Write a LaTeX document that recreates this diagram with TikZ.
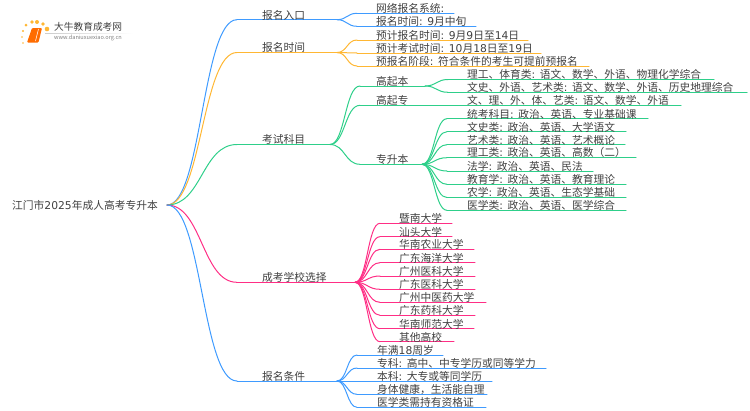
\documentclass[tikz,border=0pt]{standalone}
\usepackage{fontspec}
\setmainfont{Noto Sans CJK SC}
\newfontfamily\latinfont{DejaVu Sans}
\usetikzlibrary{calc}
\definecolor{blueline}{HTML}{3F9BFF}
\definecolor{orangeline}{HTML}{FFB733}
\definecolor{greenline}{HTML}{2ECF8A}
\definecolor{pinkline}{HTML}{FF2E85}
\definecolor{labeltext}{HTML}{404040}
\tikzset{
  root/.style={anchor=west,inner sep=0pt,font=\fontsize{10.75}{12}\selectfont,text=labeltext},
  topic/.style={anchor=south west,inner ysep=0.5pt,inner xsep=0pt,yshift=-1pt,font=\fontsize{10.75}{12}\selectfont,text=labeltext},
  link/.style={line width=1pt,line cap=round},
}
\newcommand{\lat}[1]{{\latinfont #1}}
% curve from the end of a parent line to the start of a child line
\newcommand{\curve}[3]{\coordinate (mid) at ($(#2)!0.5!(#3)$); \draw [link,#1] (#2) .. controls (mid |- #2) and (mid |- #3) .. (#3);}
% colour, name, left end, text start, right end, y of line, text
\newcommand{\topicnode}[7]{
  \coordinate (#2-l) at (#3,#6);
  \coordinate (#2-r) at (#5,#6);
  \draw [link,#1] (#2-l) -- (#2-r);
  \node [topic] (#2) at (#4,#6) {#7};
}
\begin{document}
\begin{tikzpicture}[x=1pt,y=-1pt]
\useasboundingbox (0,0) rectangle (750,410);

% logo
\foreach \px/\py/\pr in {23/31/1.2, 22/37/0.9, 23/43/0.8, 26/25/1.5, 32/22/1.8, 37/22/2, 43/24/1.9, 47/29/2.3}
  \fill [orangeline] (\px,\py) circle (\pr);
\fill [orange!85!red,rounded corners=1pt] (32,28) -- (42,28) -- (38.5,42.5) -- (27,42.5) -- cycle;
\draw [white,line width=0.5pt] (38.5,29) -- (35.5,41);
\node [anchor=west,inner sep=0pt,font=\fontsize{9.7}{11}\selectfont,text=labeltext] (logotitle) at (54,27.3) {大牛教育成考网};
\node [anchor=west,inner sep=0pt,font=\fontsize{5.6}{6}\selectfont,text=gray] (logourl) at (54,38.4) {www.daniuxuexiao.org.cn};
\shade [left color=gray!40,right color=white] (45,33) rectangle (133,33.5);

\node [root] (top) at (12,205) {江门市\lat{2025}年成人高考专升本};
\coordinate (top-r) at (167,205);

% first level
\topicnode{blueline}{entry}{237}{262}{337}{19.7}{报名入口}
\topicnode{orangeline}{date}{237}{262}{337}{52.5}{报名时间}
\topicnode{greenline}{exam}{237}{262}{330}{144.5}{考试科目}
\topicnode{pinkline}{school}{237}{262}{355}{282.3}{成考学校选择}
\topicnode{blueline}{cond}{237}{262}{337}{381}{报名条件}
\foreach \n/\c in {entry/blueline,date/orangeline,exam/greenline,school/pinkline,cond/blueline}
  {\curve{\c}{top-r}{\n-l}}

% entry
\topicnode{blueline}{entry1}{357}{376}{454}{13.3}{网络报名系统\lat{:}}
\topicnode{blueline}{entry2}{357}{376}{476}{26.3}{报名时间\lat{: 9}月中旬}
\foreach \n in {entry1,entry2} {\curve{blueline}{entry-r}{\n-l}}

% date
\topicnode{orangeline}{date1}{357}{376}{528}{40}{预计报名时间\lat{: 9}月\lat{9}日至\lat{14}日}
\topicnode{orangeline}{date2}{357}{376}{541}{53}{预计考试时间\lat{: 10}月\lat{18}日至\lat{19}日}
\topicnode{orangeline}{date3}{357}{376}{589}{66}{预报名阶段\lat{: }符合条件的考生可提前预报名}
\foreach \n in {date1,date2,date3} {\curve{orangeline}{date-r}{\n-l}}

% exam
\topicnode{greenline}{bk}{360}{376}{425}{86}{高起本}
\topicnode{greenline}{gz}{360}{376}{681}{105.3}{高起专}
\topicnode{greenline}{zs}{360}{376}{422}{164.3}{专升本}
\foreach \n in {bk,gz,zs} {\curve{greenline}{exam-r}{\n-l}}

\topicnode{greenline}{bk1}{448}{467}{714}{79.5}{理工、体育类\lat{: }语文、数学、外语、物理化学综合}
\topicnode{greenline}{bk2}{448}{467}{747}{92.3}{文史、外语、艺术类\lat{: }语文、数学、外语、历史地理综合}
\foreach \n in {bk1,bk2} {\curve{greenline}{bk-r}{\n-l}}
\node [topic] (gz1) at (467,105.3) {文、理、外、体、艺类\lat{: }语文、数学、外语};

\topicnode{greenline}{zs1}{447}{467}{648}{118.7}{统考科目\lat{: }政治、英语、专业基础课}
\topicnode{greenline}{zs2}{447}{467}{626}{131.7}{文史类\lat{: }政治、英语、大学语文}
\topicnode{greenline}{zs3}{447}{467}{625}{144.7}{艺术类\lat{: }政治、英语、艺术概论}
\topicnode{greenline}{zs4}{447}{467}{636}{157.7}{理工类\lat{: }政治、英语、高数（二）}
\topicnode{greenline}{zs5}{447}{467}{593}{171}{法学\lat{: }政治、英语、民法}
\topicnode{greenline}{zs6}{447}{467}{626}{184.3}{教育学\lat{: }政治、英语、教育理论}
\topicnode{greenline}{zs7}{447}{467}{626}{197.5}{农学\lat{: }政治、英语、生态学基础}
\topicnode{greenline}{zs8}{447}{467}{626}{210.3}{医学类\lat{: }政治、英语、医学综合}
\foreach \n in {zs1,zs2,zs3,zs4,zs5,zs6,zs7,zs8} {\curve{greenline}{zs-r}{\n-l}}

% school
\topicnode{pinkline}{s1}{380}{399}{452}{223.3}{暨南大学}
\topicnode{pinkline}{s2}{380}{399}{452}{236.7}{汕头大学}
\topicnode{pinkline}{s3}{380}{399}{474}{249.3}{华南农业大学}
\topicnode{pinkline}{s4}{380}{399}{475}{262.7}{广东海洋大学}
\topicnode{pinkline}{s5}{380}{399}{475}{276}{广州医科大学}
\topicnode{pinkline}{s6}{380}{399}{475}{289.3}{广东医科大学}
\topicnode{pinkline}{s7}{380}{399}{486}{302.3}{广州中医药大学}
\topicnode{pinkline}{s8}{380}{399}{475}{315.3}{广东药科大学}
\topicnode{pinkline}{s9}{380}{399}{474}{328.7}{华南师范大学}
\topicnode{pinkline}{s10}{380}{399}{454}{341.7}{其他高校}
\foreach \n in {s1,s2,s3,s4,s5,s6,s7,s8,s9,s10} {\curve{pinkline}{school-r}{\n-l}}

% cond
\topicnode{blueline}{c1}{357}{377}{443}{355}{年满\lat{18}周岁}
\topicnode{blueline}{c2}{357}{377}{546}{368}{专科\lat{: }高中、中专学历或同等学力}
\topicnode{blueline}{c3}{357}{377}{492}{381}{本科\lat{: }大专或等同学历}
\topicnode{blueline}{c4}{357}{377}{487}{394.3}{身体健康，生活能自理}
\topicnode{blueline}{c5}{357}{377}{486}{407.3}{医学类需持有资格证}
\foreach \n in {c1,c2,c3,c4,c5} {\curve{blueline}{cond-r}{\n-l}}
\end{tikzpicture}
\end{document}
